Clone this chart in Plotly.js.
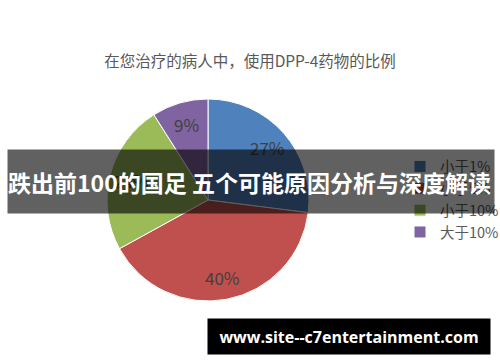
<!DOCTYPE html>
<html><head><meta charset="utf-8">
<script src="https://cdn.plot.ly/plotly-3.0.1.min.js"></script>
<style>html,body{margin:0;padding:0;background:#fff}#chart{width:500px;height:362px}</style>
</head><body><div id="chart"></div>
<script>
const categories = ["小于1%", "小于5%", "小于10%", "大于10%"];
const values = [27, 40, 24, 9];
const colors = ["#4F81BD", "#C0504D", "#9BBB59", "#8064A2"];
const titleText = "在您治疗的病人中，使用DPP-4药物的比例";
const bannerText = "跌出前100的国足 五个可能原因分析与深度解读";
const siteText = "www.site--c7entertainment.com";

const W = 500, H = 362;
const cjk = '"Noto Sans CJK SC", "Noto Sans", sans-serif';
const pieDomain = {x: [0.214, 0.618], y: [1 - 301/362, 1 - 99/362]};

// percent labels placed along each slice's mid-angle (Excel-style, ~0.78 r)
const total = values.reduce((a, b) => a + b, 0);
const cx = (pieDomain.x[0] + pieDomain.x[1]) / 2 * W;
const cy = (1 - (pieDomain.y[0] + pieDomain.y[1]) / 2) * H;
const r = (pieDomain.y[1] - pieDomain.y[0]) * H / 2;
let cum = 0;
const labelAnns = values.map(v => {
  const mid = (cum + v / 2) / total * 2 * Math.PI;
  cum += v;
  const px = cx + 0.78 * r * Math.sin(mid);
  const py = cy - 0.78 * r * Math.cos(mid);
  return {xref: 'paper', yref: 'paper', x: px / W, y: 1 - py / H, xanchor: 'center', yanchor: 'middle',
    text: Math.round(v / total * 100) + '%', showarrow: false,
    font: {family: cjk, size: 17, color: '#404040'}};
});

const data = [{
  type: 'pie',
  labels: categories,
  values: values,
  sort: false,
  direction: 'clockwise',
  rotation: 0,
  marker: {colors: colors, line: {color: '#ffffff', width: 1}},
  textinfo: 'none',
  hoverinfo: 'none',
  domain: pieDomain
}];
const layout = {
  width: W, height: H,
  margin: {l: 0, r: 0, t: 0, b: 0, autoexpand: false},
  paper_bgcolor: '#ffffff',
  showlegend: true,
  title: {text: titleText, font: {family: cjk, size: 15.5, color: '#595959'}, x: 0.5, xanchor: 'center', y: 1 - 62/362, yanchor: 'middle'},
  legend: {x: 0.8, xanchor: 'left', y: 1 - 199.5/362, yanchor: 'middle', font: {family: cjk, size: 14.5, color: '#595959'}, bgcolor: 'rgba(0,0,0,0)', itemclick: false},
  annotations: labelAnns.concat([
    {xref: 'paper', yref: 'paper', x: 7/500, xanchor: 'left', y: 1 - 149/362, yanchor: 'top',
     text: '<b>' + bannerText + '</b>', showarrow: false, align: 'left', width: 486, height: 63, borderpad: 0,
     bgcolor: 'rgba(0,0,0,0.62)', font: {family: cjk, size: 23, color: '#ffffff'}},
    {xref: 'paper', yref: 'paper', x: 207/500, xanchor: 'left', y: 1 - 318/362, yanchor: 'top',
     text: '<b>' + siteText + '</b>', showarrow: false, align: 'center', width: 282, height: 35, borderpad: 0,
     bgcolor: '#000000', font: {family: '"Open Sans", sans-serif', size: 16, color: '#ffffff'}}
  ])
};
Plotly.newPlot('chart', data, layout, {staticPlot: true, displayModeBar: false});
</script></body></html>
